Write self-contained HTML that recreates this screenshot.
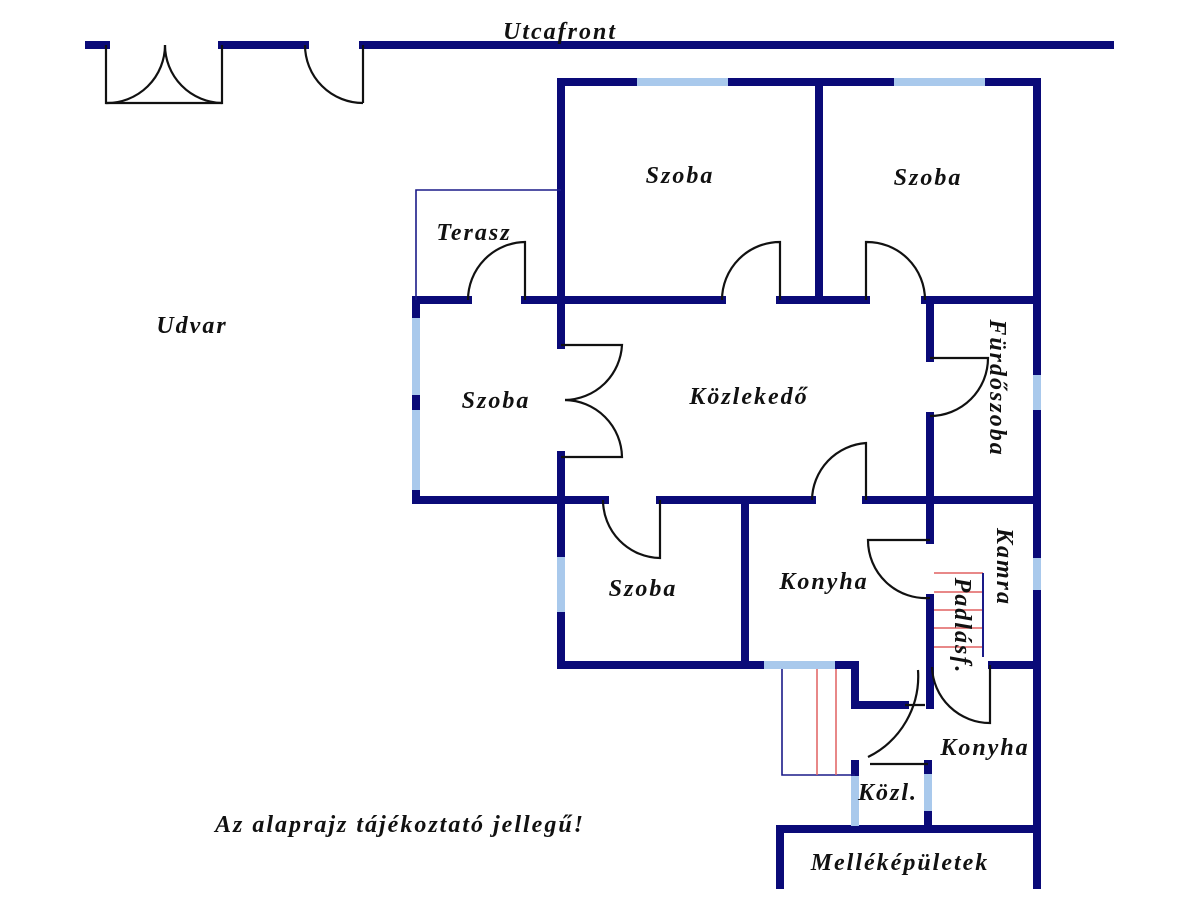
<!DOCTYPE html>
<html><head><meta charset="utf-8"><style>
html,body{margin:0;padding:0;background:#fff;}
svg{display:block;}
text{font-family:"Liberation Serif",serif;font-style:italic;font-weight:bold;font-size:24px;letter-spacing:2px;fill:#111;}
</style></head><body>
<svg width="1200" height="900" viewBox="0 0 1200 900" xmlns="http://www.w3.org/2000/svg">
<g stroke="#0a0a78" stroke-width="8" stroke-linecap="square" fill="none">
  <line x1="89" y1="45" x2="106" y2="45"/>
  <line x1="222" y1="45" x2="305" y2="45"/>
  <line x1="363" y1="45" x2="1110" y2="45"/>
  <line x1="561" y1="82" x2="1037" y2="82"/>
  <line x1="561" y1="82" x2="561" y2="345"/>
  <line x1="819" y1="82" x2="819" y2="300"/>
  <line x1="1037" y1="82" x2="1037" y2="885"/>
  <line x1="416" y1="300" x2="468" y2="300"/>
  <line x1="525" y1="300" x2="722" y2="300"/>
  <line x1="780" y1="300" x2="866" y2="300"/>
  <line x1="925" y1="300" x2="1037" y2="300"/>
  <line x1="416" y1="300" x2="416" y2="500"/>
  <line x1="561" y1="455" x2="561" y2="665"/>
  <line x1="416" y1="500" x2="605" y2="500"/>
  <line x1="660" y1="500" x2="812" y2="500"/>
  <line x1="866" y1="500" x2="1037" y2="500"/>
  <line x1="930" y1="300" x2="930" y2="358"/>
  <line x1="930" y1="416" x2="930" y2="540"/>
  <line x1="930" y1="598" x2="930" y2="705"/>
  <line x1="745" y1="500" x2="745" y2="665"/>
  <line x1="561" y1="665" x2="762" y2="665"/>
  <line x1="835" y1="665" x2="855" y2="665"/>
  <line x1="855" y1="665" x2="855" y2="705"/>
  <line x1="855" y1="705" x2="905" y2="705"/>
  <line x1="992" y1="665" x2="1037" y2="665"/>
  <line x1="855" y1="764" x2="855" y2="775"/>
  <line x1="928" y1="764" x2="928" y2="773"/>
  <line x1="928" y1="812" x2="928" y2="828"/>
  <line x1="780" y1="829" x2="1037" y2="829"/>
  <line x1="780" y1="829" x2="780" y2="885"/>
</g>
<g stroke="#a9c9ec" stroke-width="8" fill="none">
  <line x1="637" y1="82" x2="728" y2="82"/>
  <line x1="894" y1="82" x2="985" y2="82"/>
  <line x1="416" y1="318" x2="416" y2="395"/>
  <line x1="416" y1="410" x2="416" y2="490"/>
  <line x1="1037" y1="375" x2="1037" y2="410"/>
  <line x1="1037" y1="558" x2="1037" y2="590"/>
  <line x1="561" y1="557" x2="561" y2="612"/>
  <line x1="764" y1="665" x2="835" y2="665"/>
  <line x1="855" y1="776" x2="855" y2="826"/>
  <line x1="928" y1="774" x2="928" y2="811"/>
</g>
<g stroke="#1a1a88" stroke-width="1.6" fill="none">
  <polyline points="416,300 416,190 561,190"/>
  <polyline points="782,669 782,775 855,775"/>
</g>
<g stroke="#e06060" stroke-width="1.5" fill="none">
  <line x1="817" y1="669" x2="817" y2="775"/>
  <line x1="836" y1="669" x2="836" y2="775"/>
  <line x1="934" y1="573" x2="983" y2="573"/>
  <line x1="934" y1="592" x2="983" y2="592"/>
  <line x1="934" y1="610" x2="983" y2="610"/>
  <line x1="934" y1="628" x2="983" y2="628"/>
  <line x1="934" y1="647" x2="983" y2="647"/>
</g>
<line x1="983" y1="573" x2="983" y2="657" stroke="#1a1a88" stroke-width="2"/>
<g stroke="#111" stroke-width="2.2" fill="none">
  <path d="M106 45 V103 H222 V45"/>
  <path d="M165 45 A58 58 0 0 1 106 103"/>
  <path d="M165 45 A58 58 0 0 0 222 103"/>
  <path d="M363 45 V103"/>
  <path d="M305 45 A58 58 0 0 0 363 103"/>
  <path d="M525 300 V242 A58 58 0 0 0 468 300"/>
  <path d="M780 300 V242 A58 58 0 0 0 722 300"/>
  <path d="M866 300 V242 A58 58 0 0 1 925 300"/>
  <path d="M561 345 H622 A58 58 0 0 1 565 400"/>
  <path d="M561 457 H622 A58 58 0 0 0 565 400"/>
  <path d="M930 358 H988 A58 58 0 0 1 930 416"/>
  <path d="M660 500 V558 A58 58 0 0 1 603 500"/>
  <path d="M866 500 V443 A58 58 0 0 0 812 500"/>
  <path d="M930 540 H868 A58 58 0 0 0 930 598"/>
  <path d="M990 665 V723 A58 58 0 0 1 932 667"/>
  <path d="M918 670 A90 90 0 0 1 868 757"/>
  <line x1="905" y1="705" x2="925" y2="705"/>
  <line x1="870" y1="764" x2="928" y2="764"/>
</g>
<text x="560" y="39" text-anchor="middle">Utcafront</text>
<text x="680" y="183" text-anchor="middle">Szoba</text>
<text x="928" y="185" text-anchor="middle">Szoba</text>
<text x="474" y="240" text-anchor="middle">Terasz</text>
<text x="192" y="333" text-anchor="middle">Udvar</text>
<text x="496" y="408" text-anchor="middle">Szoba</text>
<text x="749" y="404" text-anchor="middle">Közlekedő</text>
<text x="643" y="596" text-anchor="middle">Szoba</text>
<text x="824" y="589" text-anchor="middle">Konyha</text>
<text x="985" y="755" text-anchor="middle">Konyha</text>
<text x="888" y="800" text-anchor="middle">Közl.</text>
<text x="400" y="832" text-anchor="middle">Az alaprajz tájékoztató jellegű!</text>
<text x="900" y="870" text-anchor="middle">Melléképületek</text>
<text transform="translate(990,388) rotate(90)" text-anchor="middle">Fürdőszoba</text>
<text transform="translate(997,567) rotate(90)" text-anchor="middle">Kamra</text>
<text transform="translate(955,626) rotate(90)" text-anchor="middle">Padlásf.</text>
</svg>
</body></html>
